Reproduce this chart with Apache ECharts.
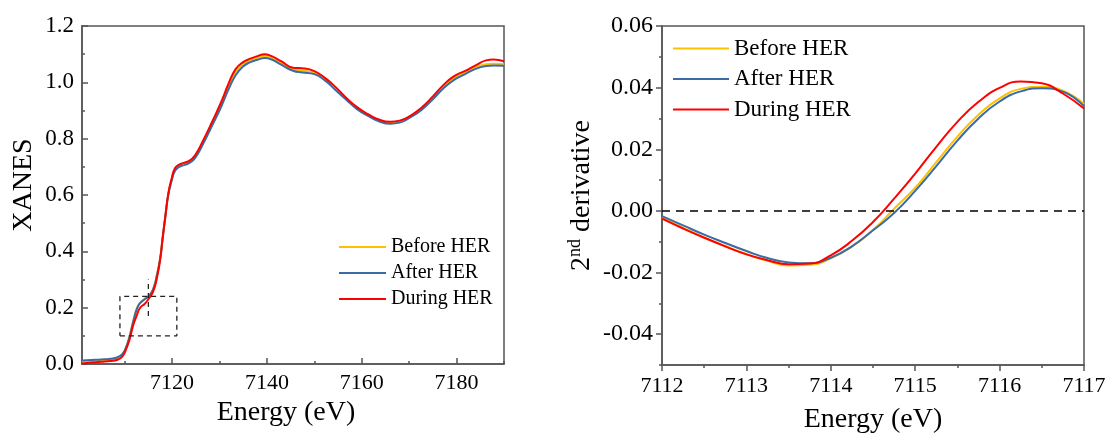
<!DOCTYPE html>
<html>
<head>
<meta charset="utf-8">
<script src="https://cdn.jsdelivr.net/npm/echarts@6/dist/echarts.min.js"></script>
<style>
html,body{margin:0;padding:0;background:#fff;}
#chart{width:1112px;height:434px;}
</style>
</head>
<body>
<div id="chart"></div>
<script>
// ---------- XANES (left panel) ----------
const xanesEnergy = [7101, 7103, 7105, 7107, 7108.5, 7109.5, 7110.2, 7111, 7111.8, 7112.5, 7113.2, 7114.3, 7115, 7116, 7116.8, 7117.5, 7118, 7118.6, 7119.2, 7119.9, 7120.6, 7121.5, 7122.5, 7123.5, 7124.8, 7126.5, 7128.5, 7130.4, 7131.9, 7133.4, 7134.9, 7136.5, 7138, 7139.5, 7141, 7143, 7145.5, 7147.5, 7150, 7152.3, 7154.5, 7156.8, 7159, 7161.3, 7163.6, 7166, 7168, 7170.4, 7172.6, 7175, 7177.2, 7179.4, 7181.7, 7184, 7186.2, 7187.8, 7190];
const xanesBefore = [0.008, 0.010, 0.013, 0.016, 0.021, 0.033, 0.055, 0.097, 0.153, 0.195, 0.217, 0.232, 0.240, 0.266, 0.318, 0.380, 0.450, 0.530, 0.605, 0.655, 0.692, 0.707, 0.713, 0.718, 0.736, 0.787, 0.856, 0.925, 0.987, 1.037, 1.064, 1.078, 1.087, 1.094, 1.088, 1.069, 1.047, 1.041, 1.034, 1.011, 0.978, 0.941, 0.909, 0.885, 0.866, 0.857, 0.861, 0.880, 0.906, 0.945, 0.984, 1.014, 1.034, 1.054, 1.064, 1.066, 1.064];
const xanesAfter = [0.012, 0.014, 0.016, 0.019, 0.024, 0.035, 0.055, 0.095, 0.150, 0.192, 0.215, 0.231, 0.240, 0.265, 0.315, 0.375, 0.445, 0.525, 0.600, 0.650, 0.685, 0.700, 0.706, 0.712, 0.730, 0.780, 0.848, 0.915, 0.975, 1.025, 1.055, 1.072, 1.080, 1.086, 1.081, 1.063, 1.041, 1.035, 1.029, 1.006, 0.972, 0.937, 0.905, 0.881, 0.862, 0.853, 0.857, 0.877, 0.902, 0.940, 0.978, 1.008, 1.028, 1.048, 1.058, 1.060, 1.059];
const xanesDuring = [0.002, 0.005, 0.008, 0.011, 0.015, 0.026, 0.048, 0.085, 0.138, 0.170, 0.198, 0.215, 0.230, 0.257, 0.305, 0.372, 0.445, 0.528, 0.605, 0.658, 0.695, 0.708, 0.714, 0.720, 0.740, 0.792, 0.862, 0.932, 0.995, 1.047, 1.071, 1.084, 1.093, 1.100, 1.093, 1.075, 1.052, 1.050, 1.040, 1.015, 0.983, 0.944, 0.912, 0.887, 0.868, 0.860, 0.864, 0.883, 0.910, 0.950, 0.990, 1.021, 1.040, 1.060, 1.078, 1.081, 1.075];
const xanesXLabels = [7120, 7140, 7160, 7180];
const xanesXMajorTicks = [7120, 7140, 7160, 7180];
const xanesXMinorTicks = [7110, 7130, 7150, 7170, 7190];
// dashed zoom box and marker (data coordinates)
const boxX = [7109, 7121, 7121, 7109, 7109];
const boxY = [0.10, 0.10, 0.24, 0.24, 0.10];
const markerX = [7115, 7115];
const markerY = [0.17, 0.30];

// ---------- 2nd derivative (right panel) ----------
const derivEnergy = [7112, 7112.25, 7112.5, 7112.75, 7113, 7113.25, 7113.5, 7113.75, 7114, 7114.25, 7114.5, 7114.75, 7115, 7115.25, 7115.5, 7115.75, 7116, 7116.25, 7116.5, 7116.75, 7117];
const derivBefore = [-0.0022, -0.0055, -0.0086, -0.0114, -0.0140, -0.0162, -0.0177, -0.0175, -0.0154, -0.0116, -0.0062, 0.0007, 0.0075, 0.0158, 0.0241, 0.0312, 0.0365, 0.0396, 0.0403, 0.0390, 0.0347];
const derivAfter = [-0.0017, -0.0047, -0.0077, -0.0104, -0.0130, -0.0153, -0.0167, -0.0170, -0.0152, -0.0115, -0.0063, -0.0007, 0.0065, 0.0145, 0.0228, 0.0300, 0.0355, 0.0388, 0.0398, 0.0387, 0.0340];
const derivDuring = [-0.0025, -0.0057, -0.0087, -0.0115, -0.0141, -0.0160, -0.0173, -0.0171, -0.0144, -0.0097, -0.0036, 0.0040, 0.0121, 0.0208, 0.0289, 0.0354, 0.0399, 0.0420, 0.0414, 0.0381, 0.0332];
const derivYLabels = [-0.04, -0.02, 0, 0.02, 0.04, 0.06];
const derivYMinorTicks = [-0.05, -0.03, -0.01, 0.01, 0.03, 0.05];

const seriesNames = ['Before HER', 'After HER', 'During HER'];
const colors = {'Before HER': '#FFC000', 'After HER': '#3A6BA5', 'During HER': '#FF0000'};

const FONT = '"Liberation Serif", "Times New Roman", serif';
const AX = '#555';

function zip(xs, ys) { return xs.map((x, i) => [x, ys[i]]); }

function lineSeries(name, xIdx, yIdx, xs, ys) {
  return {
    name: name, type: 'line', xAxisIndex: xIdx, yAxisIndex: yIdx,
    data: zip(xs, ys), smooth: true, symbol: 'none', showSymbol: false,
    lineStyle: {color: colors[name], width: 2}, itemStyle: {color: colors[name]},
    silent: true, z: 3
  };
}

const chart = echarts.init(document.getElementById('chart'), null, {renderer: 'canvas'});

const option = {
  animation: false,
  backgroundColor: '#fff',
  textStyle: {fontFamily: FONT},
  grid: [
    {left: 82, top: 26, width: 422, height: 338, show: true, borderColor: AX, borderWidth: 1.5, backgroundColor: 'transparent', outerBoundsMode: 'none', containLabel: false},
    {left: 662, top: 26, width: 422, height: 339, show: true, borderColor: AX, borderWidth: 1.5, backgroundColor: 'transparent', outerBoundsMode: 'none', containLabel: false}
  ],
  legend: [
    {
      data: seriesNames, orient: 'vertical', left: 339, top: 237,
      icon: 'rect', itemWidth: 47, itemHeight: 2, itemGap: 6, padding: 0,
      textStyle: {fontSize: 20, color: '#000', fontFamily: FONT},
      selectedMode: false
    },
    {
      data: seriesNames, orient: 'vertical', left: 673, top: 37,
      icon: 'rect', itemWidth: 56, itemHeight: 2, itemGap: 7.5, padding: 0,
      textStyle: {fontSize: 23, color: '#000', fontFamily: FONT},
      selectedMode: false
    }
  ],
  xAxis: [
    {
      gridIndex: 0, type: 'value', min: 7101, max: 7190,
      axisLine: {onZero: false, lineStyle: {color: AX, width: 1.5}},
      axisTick: {inside: true, length: 6, customValues: xanesXMajorTicks, lineStyle: {color: AX, width: 1.5}},
      axisLabel: {customValues: xanesXLabels, formatter: v => String(Math.round(v)), color: '#000', fontSize: 22, fontFamily: FONT, margin: 8},
      splitLine: {show: false},
      name: 'Energy (eV)', nameLocation: 'middle', nameGap: 31,
      nameTextStyle: {fontSize: 28, color: '#000', fontFamily: FONT, padding: [0, 14, 0, 0]}
    },
    {
      gridIndex: 0, type: 'value', min: 7101, max: 7190, position: 'bottom',
      axisLine: {show: false, onZero: false},
      axisTick: {inside: true, length: 3, customValues: xanesXMinorTicks, lineStyle: {color: AX, width: 1.5}},
      axisLabel: {show: false}, splitLine: {show: false}
    },
    {
      gridIndex: 1, type: 'value', min: 7112, max: 7117, interval: 1,
      axisLine: {onZero: false, lineStyle: {color: AX, width: 1.5}},
      axisTick: {inside: false, length: 6, lineStyle: {color: AX, width: 1.5}},
      minorTick: {show: true, splitNumber: 2, length: 3, lineStyle: {color: AX, width: 1.5}},
      axisLabel: {formatter: v => String(Math.round(v)), color: '#000', fontSize: 22, fontFamily: FONT, margin: 10},
      splitLine: {show: false}, minorSplitLine: {show: false},
      name: 'Energy (eV)', nameLocation: 'middle', nameGap: 41,
      nameTextStyle: {fontSize: 28, color: '#000', fontFamily: FONT}
    }
  ],
  yAxis: [
    {
      gridIndex: 0, type: 'value', min: 0, max: 1.2, interval: 0.2,
      axisLine: {onZero: false, lineStyle: {color: AX, width: 1.5}},
      axisTick: {inside: true, length: 6, lineStyle: {color: AX, width: 1.5}},
      minorTick: {show: true, splitNumber: 2, length: 3, lineStyle: {color: AX, width: 1.5}},
      axisLabel: {formatter: v => v.toFixed(1), color: '#000', fontSize: 23, fontFamily: FONT, margin: 8},
      splitLine: {show: false}, minorSplitLine: {show: false},
      name: 'XANES', nameLocation: 'middle', nameGap: 44,
      nameTextStyle: {fontSize: 28, color: '#000', fontFamily: FONT, padding: [0, 0, 0, 20]}
    },
    {
      gridIndex: 1, type: 'value', min: -0.05, max: 0.06,
      axisLine: {onZero: false, lineStyle: {color: AX, width: 1.5}},
      axisTick: {inside: false, length: 6, customValues: derivYLabels, lineStyle: {color: AX, width: 1.5}},
      axisLabel: {customValues: derivYLabels, formatter: v => v.toFixed(2), color: '#000', fontSize: 24, fontFamily: FONT, margin: 9},
      splitLine: {show: false},
      name: '{n|2}{sup|nd}{n| derivative}', nameLocation: 'middle', nameGap: 66,
      nameTextStyle: {
        fontSize: 28, color: '#000', fontFamily: FONT,
        rich: {
          n: {fontSize: 28, fontFamily: FONT, color: '#000', lineHeight: 30, verticalAlign: 'bottom'},
          sup: {fontSize: 18, fontFamily: FONT, color: '#000', lineHeight: 30, verticalAlign: 'top', padding: [0, 0, 8, 0]}
        }
      }
    },
    {
      gridIndex: 1, type: 'value', min: -0.05, max: 0.06, position: 'left',
      axisLine: {show: false, onZero: false},
      axisTick: {inside: false, length: 3, customValues: derivYMinorTicks, lineStyle: {color: AX, width: 1.5}},
      axisLabel: {show: false}, splitLine: {show: false}
    }
  ],
  series: [
    lineSeries('Before HER', 0, 0, xanesEnergy, xanesBefore),
    lineSeries('After HER', 0, 0, xanesEnergy, xanesAfter),
    lineSeries('During HER', 0, 0, xanesEnergy, xanesDuring),
    {
      name: 'box', type: 'line', xAxisIndex: 0, yAxisIndex: 0, data: zip(boxX, boxY),
      symbol: 'none', lineStyle: {color: '#222', width: 1.3, type: [5, 4]}, silent: true, z: 4
    },
    {
      name: 'marker', type: 'line', xAxisIndex: 0, yAxisIndex: 0, data: zip(markerX, markerY),
      symbol: 'none', lineStyle: {color: '#222', width: 1.3, type: [5, 4]}, silent: true, z: 4
    },
    Object.assign(lineSeries('Before HER', 2, 1, derivEnergy, derivBefore), {
      markLine: {
        silent: true, symbol: 'none', label: {show: false},
        lineStyle: {color: '#000', width: 1.5, type: [8, 6]},
        data: [{yAxis: 0}]
      }
    }),
    lineSeries('After HER', 2, 1, derivEnergy, derivAfter),
    lineSeries('During HER', 2, 1, derivEnergy, derivDuring)
  ]
};
chart.setOption(option);
</script>
</body>
</html>
